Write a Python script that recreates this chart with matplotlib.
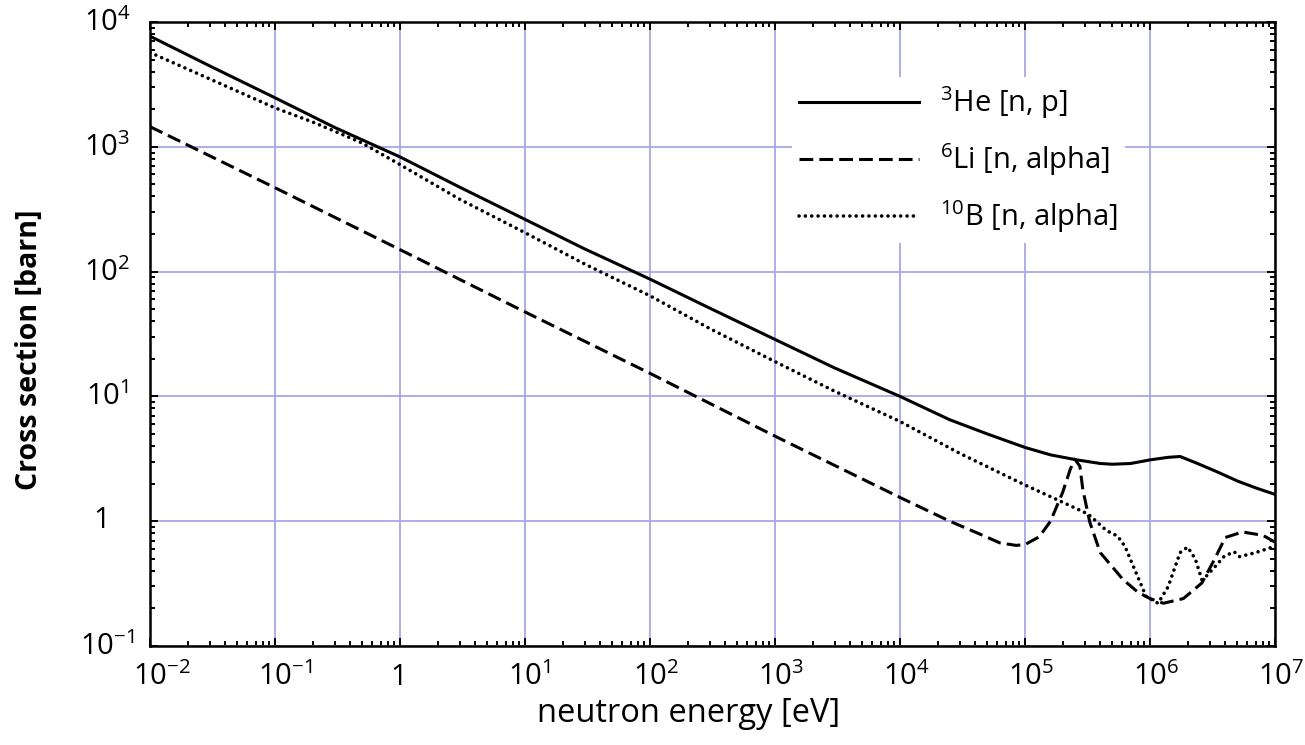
import matplotlib
matplotlib.use("Agg")
import matplotlib.pyplot as plt
from matplotlib.ticker import FixedLocator, LogLocator, NullFormatter
from matplotlib.transforms import ScaledTranslation

plt.rcParams['font.family'] = ['Open Sans', 'DejaVu Sans']
plt.rcParams['mathtext.fontset'] = 'custom'
plt.rcParams['mathtext.rm'] = 'Open Sans'
plt.rcParams['mathtext.it'] = 'Open Sans:italic'
plt.rcParams['mathtext.bf'] = 'Open Sans:bold'

# ---------------- data ----------------
he3_energy = [1e-2, 3e-2, 1e-1, 3e-1, 1, 3, 10, 30, 100, 300, 1e3, 3e3, 1e4,
              2.5e4, 5e4, 1e5, 1.6e5, 2.6e5, 4e5, 5e5, 7e5, 1e6, 1.4e6, 1.74e6,
              2.4e6, 3.4e6, 5e6, 7e6, 1e7]
he3_sigma = [7700, 4450, 2470, 1430, 830, 475, 262, 152, 87, 51, 28.6, 16.9, 10,
             6.5, 5.0, 3.9, 3.4, 3.1, 2.9, 2.86, 2.9, 3.1, 3.25, 3.3,
             2.9, 2.5, 2.1, 1.85, 1.64]

li6_energy = [1e-2, 1e-1, 1, 10, 100, 1e3, 1e4, 2.5e4, 4.6e4, 6.3e4, 8.5e4, 1e5,
              1.3e5, 1.6e5, 2e5, 2.3e5, 2.5e5, 2.75e5, 2.9e5, 3.3e5, 4e5, 6.1e5,
              8e5, 1e6, 1.28e6, 1.85e6, 2.6e6, 3.3e6, 4e6, 5.5e6, 8e6, 1e7]
li6_sigma = [1450, 470, 150, 47.5, 15.3, 4.8, 1.55, 1.0, 0.77, 0.67, 0.64, 0.65,
             0.75, 1.0, 1.7, 2.6, 3.15, 2.75, 1.8, 0.98, 0.56, 0.34,
             0.27, 0.24, 0.22, 0.24, 0.32, 0.50, 0.74, 0.82, 0.77, 0.68]

b10_energy = [1e-2, 3e-2, 1e-1, 2e-1, 3.3e-1, 5e-1, 1, 3, 10, 30, 100, 300, 1e3,
              3e3, 1e4, 3e4, 1e5, 2e5, 3.2e5, 4.5e5, 5.5e5, 6.3e5, 7.7e5, 9.3e5,
              1.16e6, 1.4e6, 1.74e6, 2e6, 2.3e6, 2.6e6, 2.8e6, 3.3e6, 3.9e6,
              4.7e6, 5.2e6, 7e6, 1e7]
b10_sigma = [5700, 3500, 2050, 1580, 1280, 1070, 720, 380, 205, 115, 64, 35, 19,
             11, 6.3, 3.5, 1.95, 1.42, 1.14, 0.84, 0.76, 0.63, 0.39, 0.25,
             0.22, 0.30, 0.56, 0.62, 0.50, 0.34, 0.36, 0.43, 0.52,
             0.57, 0.52, 0.56, 0.63]

series_labels = [r'$\mathregular{^{3}}$He [n, p]',
                 r'$\mathregular{^{6}}$Li [n, alpha]',
                 r'$\mathregular{^{10}}$B [n, alpha]']

x_tick_values = [1e-2, 1e-1, 1, 1e1, 1e2, 1e3, 1e4, 1e5, 1e6, 1e7]
x_tick_labels = [r'$\mathregular{10^{-2}}$', r'$\mathregular{10^{-1}}$', '1',
                 r'$\mathregular{10^{1}}$', r'$\mathregular{10^{2}}$',
                 r'$\mathregular{10^{3}}$', r'$\mathregular{10^{4}}$',
                 r'$\mathregular{10^{5}}$', r'$\mathregular{10^{6}}$',
                 r'$\mathregular{10^{7}}$']
y_tick_values = [1e-1, 1, 1e1, 1e2, 1e3, 1e4]
y_tick_labels = [r'$\mathregular{10^{-1}}$', '1', r'$\mathregular{10^{1}}$',
                 r'$\mathregular{10^{2}}$', r'$\mathregular{10^{3}}$',
                 r'$\mathregular{10^{4}}$']

# ---------------- figure ----------------
W, H = 1305, 745
DPI = 100
fig = plt.figure(figsize=(W / DPI, H / DPI), dpi=DPI)
ax = fig.add_axes([150 / W, 1 - 646 / H, (1275 - 150) / W, (646 - 22) / H])
ax.set_xscale('log')
ax.set_yscale('log')
ax.set_xlim(1e-2, 1e7)
ax.set_ylim(1e-1, 1e4)

grid_color = '#a8a8e4'
ax.grid(True, which='major', color=grid_color, lw=1.3, zorder=0)
ax.set_axisbelow(True)

lw = 2.2
l1, = ax.plot(he3_energy, he3_sigma, color='black', lw=lw, solid_joinstyle='round',
              label=series_labels[0], zorder=3)
l2, = ax.plot(li6_energy, li6_sigma, color='black', lw=lw, dashes=(4.5, 2.0),
              label=series_labels[1], zorder=3)
l3, = ax.plot(b10_energy, b10_sigma, color='black', lw=2.6, dashes=(0.01, 1.75),
              dash_capstyle='round', label=series_labels[2], zorder=3)

for s in ax.spines.values():
    s.set_linewidth(1.8)

ax.xaxis.set_major_locator(FixedLocator(x_tick_values))
ax.yaxis.set_major_locator(FixedLocator(y_tick_values))
ax.xaxis.set_minor_locator(LogLocator(base=10, subs=range(2, 10), numticks=30))
ax.yaxis.set_minor_locator(LogLocator(base=10, subs=range(2, 10), numticks=30))
ax.xaxis.set_minor_formatter(NullFormatter())
ax.yaxis.set_minor_formatter(NullFormatter())
ax.xaxis.set_major_formatter(NullFormatter())
ax.yaxis.set_major_formatter(NullFormatter())

ax.tick_params(which='both', direction='in', top=True, right=True, width=1.4,
               color='black')
ax.tick_params(which='major', length=6)
ax.tick_params(which='minor', length=3.5)


def px(dx, dy):
    return ScaledTranslation(dx / DPI, dy / DPI, fig.dpi_scale_trans)


tick_fs = 21
# x tick labels: the "10" part centred on the tick, baseline 39 px below axis
for v, s in zip(x_tick_values, x_tick_labels):
    if s == '1':
        ax.text(v, 0, s, transform=ax.get_xaxis_transform() + px(-1, -39),
                ha='center', va='baseline', fontsize=tick_fs, clip_on=False)
    else:
        ax.text(v, 0, s, transform=ax.get_xaxis_transform() + px(-17, -39),
                ha='left', va='baseline', fontsize=tick_fs, clip_on=False)

# y tick labels: centred horizontally at ~43 px left of axis
for v, s in zip(y_tick_values, y_tick_labels):
    if s == '1':
        off = px(-48, -7)
    else:
        off = px(-43, -9)
    ax.text(0, v, s, transform=ax.get_yaxis_transform() + off,
            ha='center', va='baseline', fontsize=tick_fs, clip_on=False)

ax.set_xlabel('neutron energy [eV]', fontsize=23.5)
ax.xaxis.set_label_coords((689 - 150) / (1275 - 150), -(714 - 646) / (646 - 22))
ax.xaxis.label.set_verticalalignment('center')
ax.set_ylabel('Cross section [barn]', fontsize=20.5, fontweight='bold')
ax.yaxis.set_label_coords(-(150 - 30) / (1275 - 150), 1 - (350 - 22) / (646 - 22))
ax.yaxis.label.set_verticalalignment('center')

leg = ax.legend(handles=[l1, l2, l3], loc='upper left',
                bbox_to_anchor=((792 - 150) / (1275 - 150), 1 - (77 - 22) / (646 - 22)),
                frameon=True, facecolor='white', edgecolor='none', framealpha=1,
                fancybox=False, fontsize=21, handlelength=4.1, handletextpad=0.72,
                labelspacing=0.69, borderpad=0.25, borderaxespad=0)
leg.set_zorder(5)

fig.savefig('out.png', dpi=DPI)
